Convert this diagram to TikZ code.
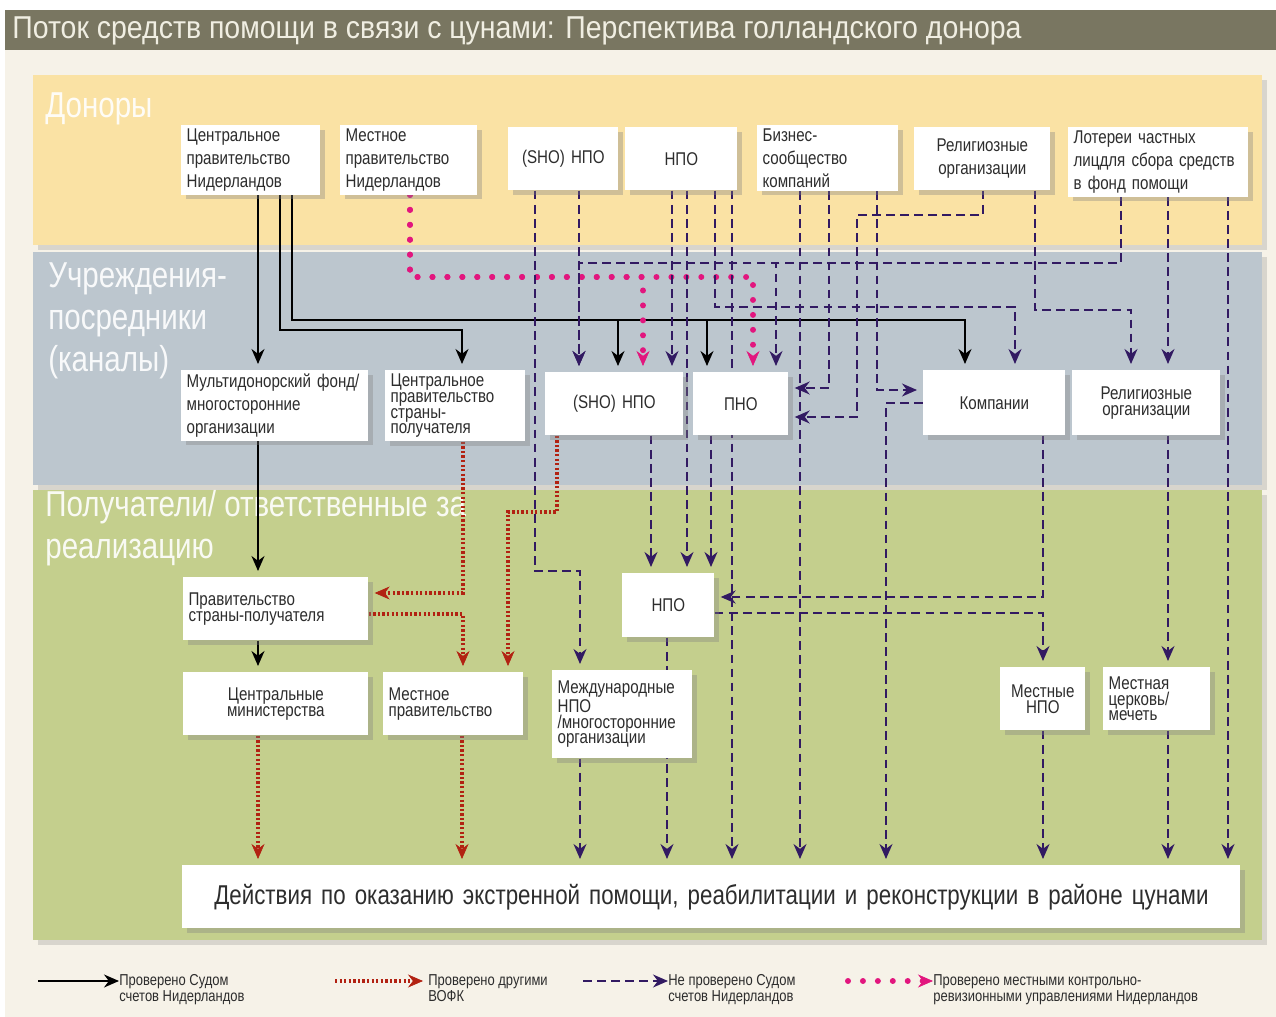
\documentclass[tikz,border=0pt]{standalone}
\usepackage{fontspec}
\setmainfont{Liberation Sans}
\newfontfamily\narrow{Liberation Sans}[FakeStretch=0.82]
\newfontfamily\titlefont{Liberation Sans}[FakeStretch=0.9]
\usetikzlibrary{arrows.meta,shadows}

\definecolor{paper}{RGB}{246,242,232}
\definecolor{titlebar}{RGB}{121,118,97}
\definecolor{titletext}{RGB}{240,238,226}
\definecolor{donors}{RGB}{250,226,164}
\definecolor{channels}{RGB}{188,198,206}
\definecolor{recipients}{RGB}{196,207,141}
\definecolor{boxtext}{RGB}{45,45,45}
\definecolor{notaudited}{RGB}{50,26,98}
\definecolor{otheraudit}{RGB}{178,34,18}
\definecolor{localaudit}{RGB}{226,22,126}

\pgfdeclarelayer{bands}
\pgfdeclarelayer{wires}
\pgfsetlayers{bands,wires,main}

\begin{document}
\begin{tikzpicture}[x=0.02cm,y=-0.02cm,
    band/.style={fill=#1,draw=none,drop shadow={shadow xshift=3pt,shadow yshift=-3pt,opacity=0.25}},
    bandlabel/.style={anchor=north west,inner sep=0pt,text=white,text opacity=0.9,align=left,
        font=\narrow\fontsize{20.5}{24}\selectfont},
    box/.style={fill=white,anchor=north west,inner xsep=3pt,inner ysep=2pt,text=boxtext,align=left,
        font=\narrow\fontsize{10.5}{13}\selectfont,
        drop shadow={shadow xshift=2.5pt,shadow yshift=-2.5pt,opacity=0.35}},
    sz/.style n args={2}{minimum width=#1*0.02cm,minimum height=#2*0.02cm,text width=#1*0.02cm-6pt},
    tight/.style={font=\narrow\fontsize{10.5}{9}\selectfont},
    keytext/.style={anchor=north west,inner sep=0pt,align=left,text=boxtext,
        font=\narrow\fontsize{9}{8}\selectfont},
    aud/.style={black,line width=1.1pt,-{Stealth[length=3mm,width=2.6mm]},shorten >=1.2mm},
    other/.style={otheraudit,line width=2pt,dash pattern=on 1.3pt off 1.3pt,
        -{Stealth[length=3mm,width=2.6mm,line width=0.4pt]},shorten >=1.2mm},
    unaud/.style={notaudited,line width=0.9pt,dash pattern=on 5pt off 3pt,
        -{Stealth[length=3mm,width=2.6mm]},shorten >=1.2mm},
    local/.style={localaudit,line width=3.4pt,line cap=round,dash pattern=on 0pt off 8.5pt,
        -{Stealth[length=3mm,width=2.6mm,line width=0.4pt]},shorten >=1.2mm}]

    % Background, title bar and bands
    \begin{pgfonlayer}{bands}
    \fill[white] (0,0) rectangle (1276,1017);
    \fill[paper] (5,50) rectangle (1276,1017);
    \fill[titlebar] (5,10) rectangle (1276,50);
    \node[anchor=west,inner sep=0pt,text=titletext,font=\titlefont\fontsize{18}{21}\selectfont] (title) at (12,31)
        {Поток средств помощи в связи с цунами: Перспектива голландского донора};
    \fill[band=donors] (33,75) rectangle (1262,245);
    \fill[band=channels] (33,252) rectangle (1262,485);
    \fill[band=recipients] (33,490) rectangle (1262,940);
    \node[bandlabel] (lbldon) at (45,92) {Доноры};
    \node[bandlabel] (lblchan) at (48,262) {Учреждения-\\посредники\\(каналы)};
    \node[bandlabel] (lblrec) at (45,490) {Получатели/ ответственные за\\реализацию};
    \end{pgfonlayer}

    % Donors
    \node[box,sz={139}{65}] (dCG) at (181,125) {Центральное\\правительство\\Нидерландов};
    \node[box,sz={137}{67}] (dLG) at (340,125) {Местное\\правительство\\Нидерландов};
    \node[box,sz={110}{63},align=center] (dSHO) at (508,127) {(SHO) НПО};
    \node[box,sz={112}{63},align=center] (dNGO) at (625,127) {НПО};
    \node[box,sz={141}{65}] (dBiz) at (757,125) {Бизнес-\\сообщество\\компаний};
    \node[box,sz={136}{63},align=center] (dRel) at (914,127) {Религиозные\\организации};
    \node[box,sz={180}{63}] (dLot) at (1068,127) {Лотереи частных\\лицдля сбора средств\\в фонд помощи};

    % Intermediaries (channels)
    \node[box,sz={187}{65}] (iMDF) at (181,370) {Мультидонорский фонд/\\многосторонние\\организации};
    \node[box,sz={140}{65},tight] (iCG) at (385,370) {Центральное\\правительство\\страны-\\получателя};
    \node[box,sz={138}{63},align=center] (iSHO) at (545,372) {(SHO) НПО};
    \node[box,sz={95}{63},align=center] (iPNO) at (693,372) {ПНО};
    \node[box,sz={142}{65},align=center] (iComp) at (923,370) {Компании};
    \node[box,sz={148}{65},tight,align=center] (iRel) at (1072,370) {Религиозные\\организации};

    % Recipients / implementers
    \node[box,sz={185}{63},tight] (rGov) at (183,577) {Правительство\\страны-получателя};
    \node[box,sz={92}{64},align=center] (rNGO) at (622,573) {НПО};
    \node[box,sz={185}{63},tight,align=center] (rMin) at (183,672) {Центральные\\министерства};
    \node[box,sz={140}{63},tight] (rLG) at (383,672) {Местное\\правительство};
    \node[box,sz={140}{88},tight] (rINGO) at (552,670) {Международные\\НПО\\/многосторонние\\организации};
    \node[box,sz={85}{63},tight,align=center] (rLNGO) at (1000,667) {Местные\\НПО};
    \node[box,sz={107}{63},tight] (rChurch) at (1103,667) {Местная\\церковь/\\мечеть};
    \node[box,sz={1058}{63},align=center,font=\narrow\fontsize{15.5}{19}\selectfont] (act) at (182,865)
        {Действия по оказанию экстренной помощи, реабилитации и реконструкции в районе цунами};

    \begin{pgfonlayer}{wires}
    % Audited by the Netherlands Court of Audit
    \draw[aud] (dCG.south -| 258,0) -- (iMDF.north -| 258,0);
    \draw[aud] (dCG.south -| 280,0) |- (462,330) -- (iCG.north -| 462,0);
    \draw[aud] (dCG.south -| 292,0) |- (965,320) -- (iComp.north -| 965,0);
    \draw[aud] (dCG.south -| 292,0) |- (618,320) -- (iSHO.north -| 618,0);
    \draw[aud] (dCG.south -| 292,0) |- (707,320) -- (iPNO.north -| 707,0);
    \draw[aud] (iMDF.south -| 258,0) -- (rGov.north -| 258,0);
    \draw[aud] (rGov.south -| 258,0) -- (rMin.north -| 258,0);

    % Audited by other audit institutions
    \draw[other] (iCG.south -| 463,0) |- (rGov.east |- 0,593);
    \draw[other] (rGov.east |- 0,614) -| (rLG.north -| 463,0);
    \draw[other] (iSHO.south -| 557,0) |- (508,512) -- (rLG.north -| 508,0);
    \draw[other] (rMin.south -| 258,0) -- (act.north -| 258,0);
    \draw[other] (rLG.south -| 462,0) -- (act.north -| 462,0);

    % Audited by Dutch local audit offices
    \draw[local] (dLG.south -| 410,0) |- (643,277) -- (iSHO.north -| 643,0);
    \draw[local] (dLG.south -| 410,0) |- (753,277) -- (iPNO.north -| 753,0);

    % Not audited by the Court of Audit
    \draw[unaud] (dSHO.south -| 535,0) |- (580,571) -- (rINGO.north -| 580,0);
    \draw[unaud] (dSHO.south -| 579,0) -- (iSHO.north -| 579,0);
    \draw[unaud] (dLot.south -| 1121,0) |- (579,263) -- (iSHO.north -| 579,0);
    \draw[unaud] (dLot.south -| 1121,0) |- (776,263) -- (iPNO.north -| 776,0);
    \draw[unaud] (dNGO.south -| 672,0) -- (iSHO.north -| 672,0);
    \draw[unaud] (dNGO.south -| 687,0) -- (rNGO.north -| 687,0);
    \draw[unaud] (dNGO.south -| 715,0) |- (1015,307) -- (iComp.north -| 1015,0);
    \draw[unaud] (dNGO.south -| 732,0) -- (act.north -| 732,0);
    \draw[unaud] (dBiz.south -| 800,0) -- (act.north -| 800,0);
    \draw[unaud] (dBiz.south -| 829,0) |- (iPNO.east |- 0,388);
    \draw[unaud] (dBiz.south -| 877,0) |- (iComp.west |- 0,390);
    \draw[unaud] (dRel.south -| 983,0) |- (857,215) |- (iPNO.east |- 0,417);
    \draw[unaud] (dRel.south -| 1035,0) |- (1131,310) -- (iRel.north -| 1131,0);
    \draw[unaud] (dLot.south -| 1168,0) -- (iRel.north -| 1168,0);
    \draw[unaud] (dLot.south -| 1228,0) -- (act.north -| 1228,0);
    \draw[unaud] (iComp.west |- 0,403) -| (act.north -| 886,0);
    \draw[unaud] (iComp.south -| 1043,0) |- (rNGO.east |- 0,597);
    \draw[unaud] (rNGO.east |- 0,613) -| (rLNGO.north -| 1043,0);
    \draw[unaud] (iSHO.south -| 651,0) -- (rNGO.north -| 651,0);
    \draw[unaud] (iPNO.south -| 711,0) -- (rNGO.north -| 711,0);
    \draw[unaud] (iRel.south -| 1168,0) -- (rChurch.north -| 1168,0);
    \draw[unaud] (rINGO.south -| 580,0) -- (act.north -| 580,0);
    \draw[unaud] (rNGO.south -| 667,0) -- (act.north -| 667,0);
    \draw[unaud] (rLNGO.south -| 1043,0) -- (act.north -| 1043,0);
    \draw[unaud] (rChurch.south -| 1168,0) -- (act.north -| 1168,0);
    \end{pgfonlayer}

    % Legend
    \coordinate (keyA) at (38,981);
    \coordinate (keyB) at (335,981);
    \coordinate (keyC) at (583,981);
    \coordinate (keyD) at (848,981);
    \node[keytext] (keyAtxt) at (119,974) {Проверено Судом\\счетов Нидерландов};
    \node[keytext] (keyBtxt) at (428,974) {Проверено другими\\ВОФК};
    \node[keytext] (keyCtxt) at (668,974) {Не проверено Судом\\счетов Нидерландов};
    \node[keytext] (keyDtxt) at (933,974) {Проверено местными контрольно-\\ревизионными управлениями Нидерландов};
    \draw[aud,shorten >=0pt] (keyA) -- (keyAtxt.west |- keyA);
    \draw[other,shorten >=1mm] (keyB) -- (keyBtxt.west |- keyB);
    \draw[unaud,shorten >=0pt] (keyC) -- (keyCtxt.west |- keyC);
    \draw[local,shorten >=0pt] (keyD) -- (keyDtxt.west |- keyD);
\end{tikzpicture}
\end{document}
